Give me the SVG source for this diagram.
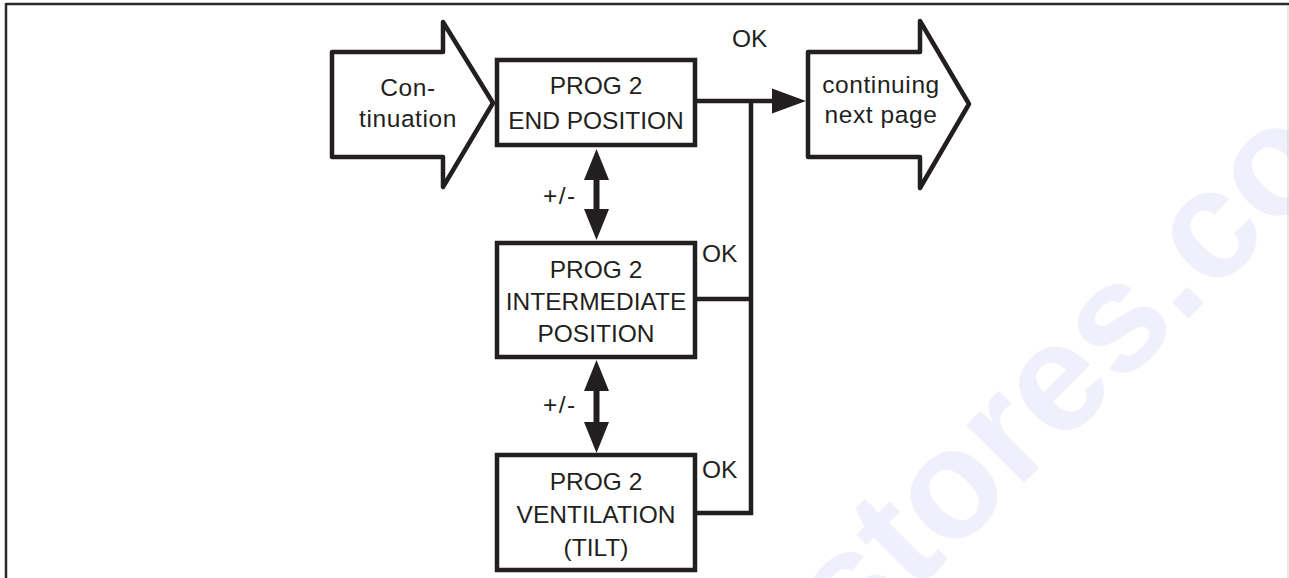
<svg xmlns="http://www.w3.org/2000/svg" width="1289" height="578" viewBox="0 0 1289 578">
<style>
.t{font-family:"Liberation Sans",Arial,Helvetica,sans-serif;font-size:24.5px;fill:#231f20;text-anchor:middle}
.lc{letter-spacing:0.6px}
.l{font-family:"Liberation Sans",Arial,Helvetica,sans-serif;font-size:24.5px;fill:#231f20}
.box{fill:#fff;stroke:#231f20;stroke-width:4.5}
.blk{fill:#fff;stroke:#231f20;stroke-width:4.5;stroke-linejoin:round}
.ln{fill:none;stroke:#231f20;stroke-width:4.5;stroke-linejoin:miter}
.ah{fill:#231f20;stroke:none}
.wm{font-family:"Liberation Sans",Arial,sans-serif;font-weight:bold;font-size:155px;fill:#f0f0fd}
</style>
<rect width="1289" height="578" fill="#fff"/>
<g id="watermark">
<text class="wm" transform="translate(852,655) rotate(-45)">stores.co</text>
</g>
<g id="frame">
<line x1="6" y1="4" x2="1289" y2="4" stroke="#2a2a2a" stroke-width="2.5"/>
<line x1="6" y1="3" x2="6" y2="578" stroke="#2a2a2a" stroke-width="2.5"/>
<line x1="1288" y1="5" x2="1288" y2="578" stroke="#cfcfcf" stroke-width="1"/>
</g>
<g id="connectors">
<line class="ln" x1="695" y1="101" x2="776" y2="101"/>
<polygon class="ah" points="772,88.5 806,101 772,113.5"/>
<polyline class="ln" points="751,101 751,513 695,513"/>
<line class="ln" x1="695" y1="299" x2="751" y2="299"/>
<path class="ah" d="M596.5,149 L609,180 L599.5,180 L599.5,209 L609,209 L596.5,240 L584,209 L593.5,209 L593.5,180 L584,180 Z"/>
<path class="ah" d="M596.5,360 L609,391 L599.5,391 L599.5,422 L609,422 L596.5,453 L584,422 L593.5,422 L593.5,391 L584,391 Z"/>
<text class="l" x="543" y="204" letter-spacing="1.5">+/-</text>
<text class="l" x="543" y="413" letter-spacing="1.5">+/-</text>
<text class="l" x="732" y="47">OK</text>
<text class="l" x="702" y="262">OK</text>
<text class="l" x="702" y="478">OK</text>
</g>
<g id="continuation">
<path class="blk" d="M332,52 H443 V22 L493,103 L443,187 V157 H332 Z"/>
<text class="t lc" x="408" y="96">Con-</text>
<text class="t lc" x="408" y="127">tinuation</text>
</g>
<g id="end-position">
<rect class="box" x="497" y="60" width="198" height="85"/>
<text class="t" x="596" y="94">PROG 2</text>
<text class="t" x="596" y="129">END POSITION</text>
</g>
<g id="intermediate-position">
<rect class="box" x="497" y="243" width="198" height="114"/>
<text class="t" x="596" y="278">PROG 2</text>
<text class="t" x="596" y="310">INTERMEDIATE</text>
<text class="t" x="596" y="342">POSITION</text>
</g>
<g id="ventilation">
<rect class="box" x="497" y="455" width="198" height="115"/>
<text class="t" x="596" y="490">PROG 2</text>
<text class="t" x="596" y="523">VENTILATION</text>
<text class="t" x="596" y="556">(TILT)</text>
</g>
<g id="continuing">
<path class="blk" d="M808,52 H920 V21 L969,104 L920,188 V157 H808 Z"/>
<text class="t lc" x="881" y="93">continuing</text>
<text class="t lc" x="881" y="123">next page</text>
</g>
</svg>
